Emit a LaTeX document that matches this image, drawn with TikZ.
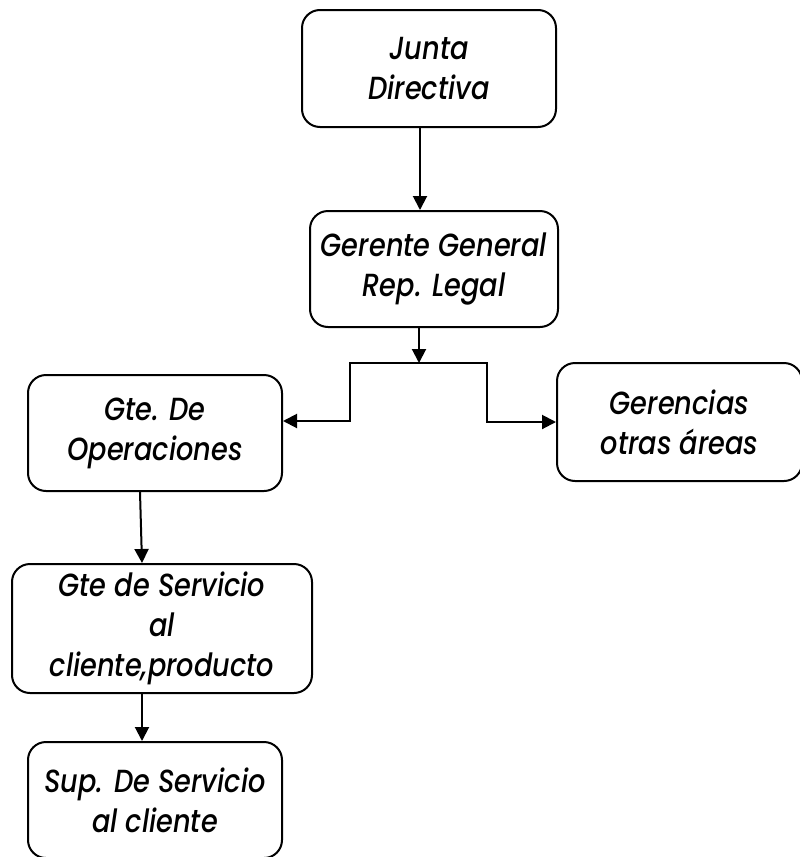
\documentclass[tikz,border=0pt]{standalone}
\usepackage{fontspec}
\setmainfont{Poppins}[FakeStretch=0.85, ItalicFont={Poppins Medium Italic}]
\usetikzlibrary{arrows.meta}

\begin{document}
\begin{tikzpicture}[
			x=1pt, y=-1pt,
			unit/.style={rectangle, rounded corners=18pt, draw, line width=2pt, align=center,
				font=\fontsize{32}{40}\selectfont\itshape, inner sep=0pt},
			link/.style={line width=2pt, -{Triangle[length=14pt,width=14pt]}}
		]
		\useasboundingbox (0,0) rectangle (800,857);

		% Upper levels
		\node[unit, minimum width=254pt, minimum height=117pt] (junta) at (429,68.5) {Junta\\Directiva};
		\node[unit, minimum width=248pt, minimum height=116pt] (gerente) at (434,269) {Gerente General\\Rep. Legal};

		% Second level
		\node[unit, minimum width=254pt, minimum height=116pt] (oper) at (155,433) {Gte. De\\Operaciones};
		\node[unit, minimum width=245pt, minimum height=118pt] (otras) at (679.5,422) {Gerencias\\otras áreas};

		% Service line
		\node[unit, minimum width=300pt, minimum height=129pt] (servicio) at (162,628.5) {Gte de Servicio\\al\\cliente,producto};
		\node[unit, minimum width=254pt, minimum height=116pt] (sup) at (155,800) {Sup. De Servicio\\al cliente};

		% Connectors
		\coordinate (split) at (419,363);
		\draw[link] ([xshift=-9pt]junta.south) -- ([xshift=-9pt]junta.south |- gerente.north);
		\draw[link] (gerente.south -| split) -- (split);
		\draw[link] (split) -- ++(-69,0) |- ([yshift=12pt]oper.east);
		\draw[link] (split) -- ++(68,0) |- (otras.west);
		\draw[link] ([xshift=-15pt]oper.south) -- ([xshift=-20pt]servicio.north);
		\draw[link] ([xshift=-20pt]servicio.south) -- ([xshift=-13pt]sup.north);

	\end{tikzpicture}
\end{document}
